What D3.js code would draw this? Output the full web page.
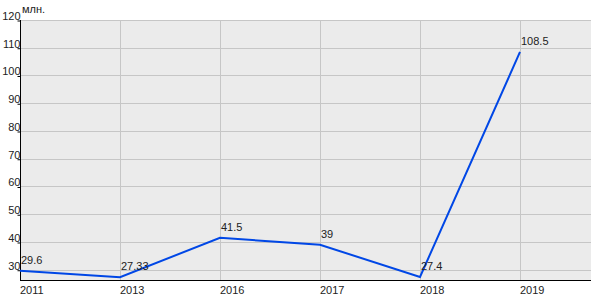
<!DOCTYPE html>
<html>
<head>
<meta charset="utf-8">
<script src="https://cdn.jsdelivr.net/npm/d3@7"></script>
<style>
body { margin: 0; background: #fff; }
text { font-family: "Liberation Sans", Arial, sans-serif; font-size: 11px; fill: #222; }
</style>
</head>
<body>
<div id="chart"></div>
<script>
var years = ['2011', '2013', '2016', '2017', '2018', '2019'];
var values = [29.6, 27.33, 41.5, 39, 27.4, 108.5];
var labels = ['29.6', '27.33', '41.5', '39', '27.4', '108.5'];
var yTicks = [30, 40, 50, 60, 70, 80, 90, 100, 110, 120];
var unit = 'млн.';

var width = 600, height = 300;
var plotLeft = 20, plotRight = 591, plotTop = 20, plotBottom = 280;

var svg = d3.select('#chart').append('svg')
    .attr('width', width)
    .attr('height', height);

var x = d3.scalePoint()
    .domain(years)
    .range([plotLeft, plotLeft + 500]);

var y = d3.scaleLinear()
    .domain([26.3, 120])
    .range([plotBottom, plotTop]);

svg.append('rect')
    .attr('x', plotLeft)
    .attr('y', plotTop)
    .attr('width', plotRight - plotLeft)
    .attr('height', plotBottom - plotTop)
    .style('fill', '#ebebeb');

// grid
svg.append('g').selectAll('line')
    .data(yTicks)
    .enter()
    .append('line')
    .attr('x1', plotLeft)
    .attr('x2', plotRight)
    .attr('y1', function (d) { return Math.round(y(d)) + 0.5 })
    .attr('y2', function (d) { return Math.round(y(d)) + 0.5 })
    .style('stroke', '#c6c6c6');

svg.append('g').selectAll('line')
    .data(years)
    .enter()
    .append('line')
    .attr('x1', function (d) { return x(d) + 0.5 })
    .attr('x2', function (d) { return x(d) + 0.5 })
    .attr('y1', plotTop)
    .attr('y2', plotBottom)
    .style('stroke', '#c6c6c6');

// y axis
var yAxis = svg.append('g')
    .attr('transform', 'translate(' + (plotLeft + 0.5) + ',0.5)')
    .call(d3.axisLeft(y).tickValues(yTicks).tickSize(3).tickSizeOuter(0).tickPadding(0));
yAxis.select('.domain').attr('d', 'M0,' + (plotTop - 0.5) + 'V' + (plotBottom - 0.5)).style('stroke', '#000');
yAxis.selectAll('.tick line').style('stroke', '#000');
yAxis.selectAll('.tick text')
    .attr('dy', '-0.1em')
    .attr('x', 0)
    .style('font-family', '"Liberation Sans", Arial, sans-serif')
    .style('font-size', '11px')
    .style('fill', '#222');

// x axis
svg.append('line')
    .attr('x1', plotLeft)
    .attr('x2', plotRight)
    .attr('y1', plotBottom + 0.5)
    .attr('y2', plotBottom + 0.5)
    .style('stroke', '#000');

svg.append('g').selectAll('text')
    .data(years)
    .enter()
    .append('text')
    .attr('x', function (d) { return x(d) })
    .attr('y', plotBottom + 14)
    .text(function (d) { return d });

svg.append('text')
    .attr('x', plotLeft + 2)
    .attr('y', plotTop - 7)
    .text(unit);

// line
var line = d3.line()
    .x(function (d, i) { return x(years[i]) })
    .y(function (d) { return y(d) });

svg.append('path')
    .datum(values)
    .attr('d', line)
    .style('fill', 'none')
    .style('stroke', '#0047e6')
    .style('stroke-width', 2);

svg.append('g').selectAll('text')
    .data(values)
    .enter()
    .append('text')
    .attr('x', function (d, i) { return x(years[i]) + 1 })
    .attr('y', function (d) { return y(d) - 7 })
    .text(function (d, i) { return labels[i] });
</script>
</body>
</html>
